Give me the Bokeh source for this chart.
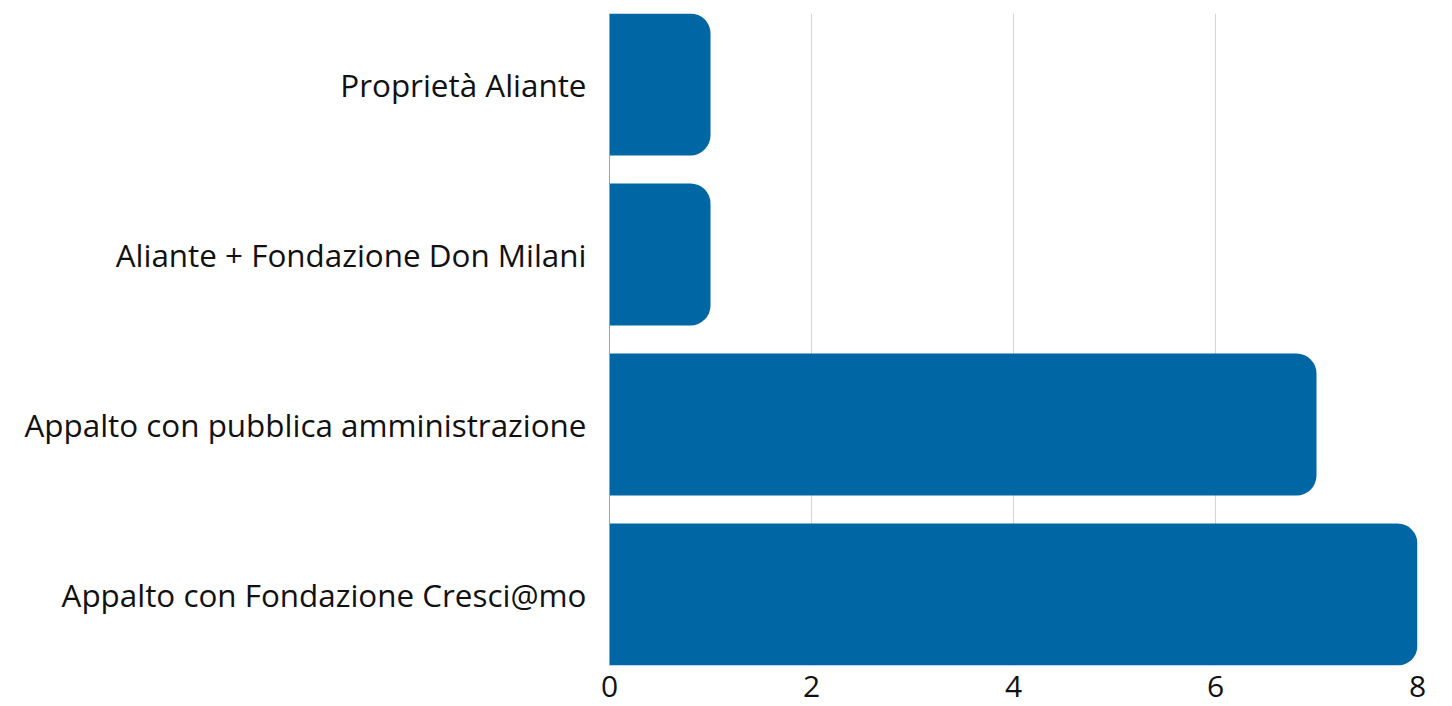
from bokeh.plotting import figure
from bokeh.models import Range1d, FixedTicker, ColumnDataSource
from bokeh.embed import file_html
from bokeh.resources import INLINE

categories = [
    "Proprietà Aliante",
    "Aliante + Fondazione Don Milani",
    "Appalto con pubblica amministrazione",
    "Appalto con Fondazione Cresci@mo",
]
values = [1, 1, 7, 8]
x_ticks = [0, 2, 4, 6, 8]

n = len(categories)
# top-to-bottom order: first category at top
ypos = [n - 1 - i for i in range(n)]
bar_h = 0.835

src = ColumnDataSource(dict(y=ypos, v=values, cat=categories))

p = figure(
    frame_width=808, frame_height=652,
    x_range=Range1d(0, 8), y_range=Range1d(-bar_h / 2, n - 1 + bar_h / 2),
    output_backend="svg", toolbar_location=None,
    min_border_left=609, min_border_top=13, min_border_right=25, min_border_bottom=41,
)
p.outline_line_color = None
p.background_fill_color = "white"

p.hbar(y="y", right="v", left=0, height=bar_h, source=src,
       fill_color="#0066A4", line_color=None, border_radius=(0, 20, 20, 0))

# x axis
p.xaxis.ticker = FixedTicker(ticks=x_ticks)
p.xaxis.axis_line_color = None
p.xaxis.major_tick_line_color = None
p.xaxis.major_tick_out = 0
p.xaxis.major_tick_in = 0
p.xaxis.minor_tick_line_color = None
p.xaxis.major_label_text_font = "Open Sans"
p.xaxis.major_label_text_font_size = "30px"
p.xaxis.major_label_text_color = "#111111"
p.xaxis.major_label_standoff = 10

# y axis
p.yaxis.ticker = FixedTicker(ticks=ypos)
p.yaxis.major_label_overrides = {y: c for y, c in zip(ypos, categories)}
p.yaxis.axis_line_color = "#a0a0a0"
p.yaxis.axis_line_width = 1
p.yaxis.major_tick_line_color = None
p.yaxis.major_tick_out = 0
p.yaxis.major_tick_in = 0
p.yaxis.minor_tick_line_color = None
p.yaxis.major_label_text_font = "Open Sans"
p.yaxis.major_label_text_font_size = "31.4px"
p.yaxis.major_label_text_color = "#111111"
p.yaxis.major_label_standoff = 23

p.xgrid.grid_line_color = "#d4d4d4"
p.ygrid.grid_line_color = None

open("out.html", "w").write(file_html(p, INLINE))
